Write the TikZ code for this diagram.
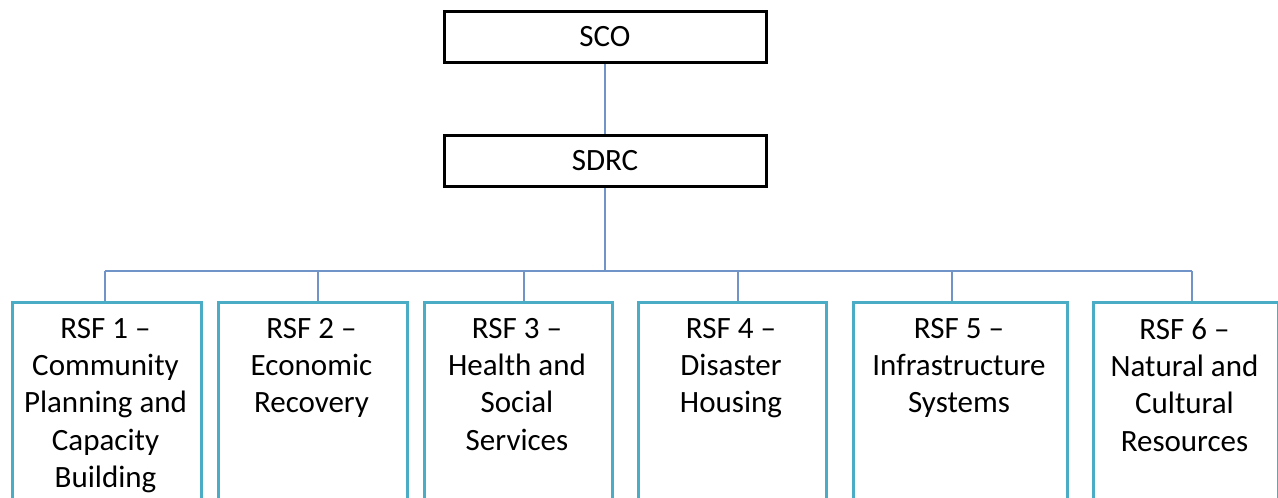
\documentclass[tikz,border=0pt]{standalone}
\usepackage{fontspec}
\setmainfont{Carlito}
\definecolor{conn}{HTML}{7094C8}
\definecolor{tealbox}{HTML}{4BACC6}
\begin{document}
\begin{tikzpicture}[x=1pt,y=-1pt,
  topbox/.style={draw=black, line width=3pt, rectangle, minimum width=322pt, minimum height=51pt, inner sep=0pt, font=\fontsize{31}{37.3}\selectfont},
  rsfbox/.style={draw=tealbox, line width=2.8pt, rectangle, minimum height=240pt, inner sep=0pt, anchor=north west},
  rsftext/.style={anchor=north, align=center, inner sep=0pt, font=\fontsize{31}{37.3}\selectfont},
  link/.style={draw=conn, line width=1.8pt}]
\useasboundingbox (0,0) rectangle (1278,498);
\clip (0,0) rectangle (1278,498);
\fill[white] (0,0) rectangle (1278,498);
% top boxes
\node[topbox] (sco) at (605,36.5) {SCO};
\node[topbox] (sdrc) at (605,160.5) {SDRC};
% RSF boxes
\node[rsfbox, minimum width=189pt] (r1) at (11,301) {};
\node[rsfbox, minimum width=189pt] (r2) at (217,301) {};
\node[rsfbox, minimum width=188pt] (r3) at (423,301) {};
\node[rsfbox, minimum width=188pt] (r4) at (637,301) {};
\node[rsfbox, minimum width=214pt] (r5) at (852,301) {};
\node[rsfbox, minimum width=185pt] (r6) at (1092,301) {};
% texts
\node[rsftext] (t1) at (105.5,318) {RSF 1 –\\Community\\Planning and\\Capacity\\Building};
\node[rsftext] (t2) at (311.5,318) {RSF 2 –\\Economic\\Recovery};
\node[rsftext] (t3) at (517,318) {RSF 3 –\\Health and\\Social\\Services};
\node[rsftext] (t4) at (731,318) {RSF 4 –\\Disaster\\Housing};
\node[rsftext] (t5) at (959,318) {RSF 5 –\\Infrastructure\\Systems};
\node[rsftext] (t6) at (1184.5,318) {RSF 6 –\\Natural and\\Cultural\\Resources};
% bus coordinates
\coordinate (b1) at (105,271);
\coordinate (b2) at (318,271);
\coordinate (b3) at (524,271);
\coordinate (b4) at (738,271);
\coordinate (b5) at (952,271);
\coordinate (b6) at (1192,271);
% connectors
\draw[link] (sco.south) -- (sdrc.north);
\draw[link] (sdrc.south) -- (sdrc.south |- b1);
\draw[link] (b1) -- (b6);
\draw[link] (b1) -- (b1 |- r1.north);
\draw[link] (b2) -- (b2 |- r2.north);
\draw[link] (b3) -- (b3 |- r3.north);
\draw[link] (b4) -- (b4 |- r4.north);
\draw[link] (b5) -- (b5 |- r5.north);
\draw[link] (b6) -- (b6 |- r6.north);
\end{tikzpicture}
\end{document}
